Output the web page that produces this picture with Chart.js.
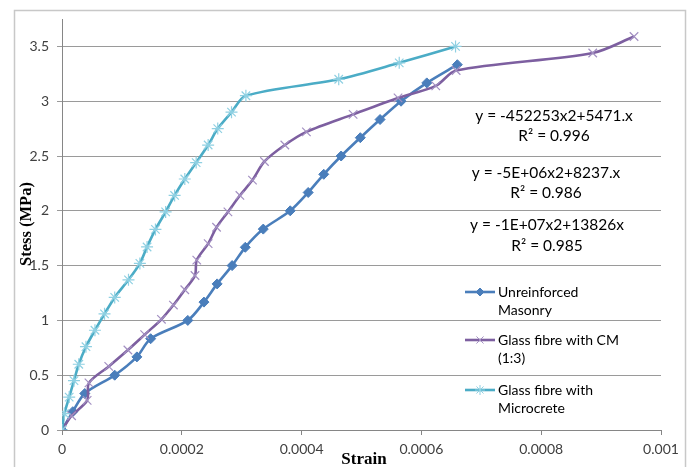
<!DOCTYPE html>
<html>
<head>
<meta charset="utf-8">
<script src="https://cdn.jsdelivr.net/npm/chart.js@4/dist/chart.umd.min.js"></script>
<style>
html,body{margin:0;padding:0;background:#fff;}
#wrap{width:691px;height:467px;position:relative;}
</style>
</head>
<body>
<div id="wrap"><canvas id="c" width="691" height="467"></canvas></div>
<script>
// ---- data ----
const seriesNames = [["Unreinforced","Masonry"],["Glass fibre with CM","(1:3)"],["Glass fibre with","Microcrete"]];
const urmStrain = [0, 0.000018, 0.000038, 0.000088, 0.000125, 0.000148, 0.00021, 0.000237, 0.000259, 0.000284, 0.000306, 0.000336, 0.000381, 0.000411, 0.000437, 0.000466, 0.000498, 0.000531, 0.000566, 0.000609, 0.00066];
const urmStress = [0, 0.167, 0.333, 0.5, 0.667, 0.833, 1.0, 1.167, 1.333, 1.5, 1.667, 1.833, 2.0, 2.167, 2.333, 2.5, 2.667, 2.833, 3.0, 3.167, 3.333];
const cmStrain = [0, 0.000016, 0.000042, 0.000045, 0.000078, 0.00011, 0.000138, 0.000166, 0.000186, 0.000205, 0.000222, 0.000225, 0.000244, 0.000258, 0.000277, 0.000297, 0.000318, 0.000338, 0.000372, 0.000408, 0.000486, 0.000561, 0.000624, 0.000658, 0.000886, 0.000955];
const cmStress = [0, 0.13, 0.27, 0.43, 0.58, 0.73, 0.87, 1.01, 1.14, 1.28, 1.41, 1.55, 1.70, 1.85, 1.99, 2.14, 2.28, 2.45, 2.60, 2.72, 2.88, 3.03, 3.14, 3.28, 3.44, 3.59];
const mcStrain = [0, 0.000004, 0.000012, 0.00002, 0.000028, 0.00004, 0.000055, 0.000071, 0.000088, 0.000111, 0.00013, 0.000142, 0.000156, 0.000173, 0.000188, 0.000205, 0.000224, 0.000244, 0.00026, 0.000283, 0.000307, 0.000462, 0.000563, 0.000657];
const mcStress = [0, 0.15, 0.3, 0.45, 0.6, 0.76, 0.91, 1.06, 1.21, 1.37, 1.52, 1.67, 1.83, 1.99, 2.14, 2.29, 2.44, 2.6, 2.75, 2.9, 3.05, 3.2, 3.35, 3.5];
const xTicks = [0, 0.0002, 0.0004, 0.0006, 0.0008, 0.001];
const xTickLabels = ["0", "0.0002", "0.0004", "0.0006", "0.0008", "0.001"];
const yTicks = [0, 0.5, 1, 1.5, 2, 2.5, 3, 3.5];
const yTickLabels = ["0", "0.5", "1", "1.5", "2", "2.5", "3", "3.5"];
const equations = ["y = -452253x2+5471.x", "y = -5E+06x2+8237.x", "y = -1E+07x2+13826x"];
const r2Texts = ["R² = 0.996", "R² = 0.986", "R² = 0.985"];
const xTitle = "Strain";
const yTitle = "Stess (MPa)";

// ---- styles ----
const lineColors = ["#4a7ebb", "#7d5fa0", "#4bacc6"];
const markColors = ["#4a7ebb", "#a390c2", "#8fd0e2"];
const markStyles = ["rectRot", "crossRot", "star"];
const FONT = "Lato, 'Open Sans', sans-serif";

function pts(xs, ys){ return xs.map((x,i)=>({x:x, y:ys[i]})); }

const datasets = [
  {label: seriesNames[0].join(" "), data: pts(urmStrain, urmStress)},
  {label: seriesNames[1].join(" "), data: pts(cmStrain, cmStress)},
  {label: seriesNames[2].join(" "), data: pts(mcStrain, mcStress)}
].map((d,i)=>Object.assign(d, {
  showLine: true,
  borderColor: lineColors[i],
  borderWidth: 2.6,
  tension: 0.3,
  pointStyle: markStyles[i],
  pointRadius: i===0 ? 5 : 6,
  pointBorderColor: markColors[i],
  pointBackgroundColor: markColors[i],
  pointBorderWidth: i===0 ? 1 : 1.2,
  order: 3-i
}));

const decor = {
  id: 'decor',
  beforeDraw(chart){
    const ctx = chart.ctx;
    ctx.save();
    ctx.fillStyle = '#fff';
    ctx.fillRect(0,0,chart.width,chart.height);
    ctx.strokeStyle = '#c8c8c8';
    ctx.lineWidth = 1.5;
    ctx.strokeRect(14.5, 10.5, 671, 480);
    ctx.restore();
  },
  afterDraw(chart){
    const ctx = chart.ctx;
    ctx.save();
    // axis titles
    ctx.fillStyle = '#000';
    ctx.font = "bold 17px 'Liberation Serif', serif";
    ctx.textAlign = 'center';
    ctx.textBaseline = 'middle';
    ctx.fillText(xTitle, 364, 460);
    ctx.save();
    ctx.translate(27, 224);
    ctx.rotate(-Math.PI/2);
    ctx.font = "bold 16.5px 'Liberation Serif', serif";
    ctx.fillText(yTitle, 0, 0);
    ctx.restore();
    // equations
    ctx.font = "15.5px " + FONT;
    ctx.fillStyle = '#000';
    const eqPos = [[554,116,136],[546,173,193],[547,225,246]];
    for (let i=0;i<3;i++){
      ctx.fillText(equations[i], eqPos[i][0], eqPos[i][1]);
      ctx.fillText(r2Texts[i], eqPos[i][0], eqPos[i][2]);
    }
    // legend
    const legY = [292, 340, 390];
    ctx.font = "14px " + FONT;
    ctx.textAlign = 'left';
    for (let i=0;i<3;i++){
      const y = legY[i];
      ctx.strokeStyle = lineColors[i];
      ctx.lineWidth = 2.6;
      ctx.beginPath(); ctx.moveTo(465, y); ctx.lineTo(495, y); ctx.stroke();
      ctx.strokeStyle = markColors[i];
      ctx.fillStyle = markColors[i];
      ctx.lineWidth = 1;
      Chart.helpers.drawPoint(ctx, {pointStyle: markStyles[i], radius: i===0 ? 4 : 5, borderWidth: 1, rotation: 0}, 480, y);
      ctx.fillStyle = '#000';
      ctx.fillText(seriesNames[i][0], 498, y);
      ctx.fillText(seriesNames[i][1], 498, y + 18);
    }
    ctx.restore();
  }
};

new Chart(document.getElementById('c'), {
  type: 'scatter',
  data: {datasets},
  options: {
    responsive: false,
    animation: false,
    events: [],
    layout: {padding: {top: 19, right: 30, bottom: 0, left: 0}},
    plugins: {legend: {display: false}, tooltip: {enabled: false}},
    scales: {
      x: {
        type: 'linear', min: 0, max: 0.001,
        afterBuildTicks: s => { s.ticks = xTicks.map(v => ({value: v})); },
        afterFit: s => { s.height = 37; },
        ticks: {callback: (v,i) => xTickLabels[i], color: '#404040', font: {family: FONT, size: 14}, padding: 6, maxRotation: 0, autoSkip: false},
        grid: {drawOnChartArea: false, drawTicks: true, tickLength: 5, color: '#868686'},
        border: {color: '#868686', width: 1}
      },
      y: {
        type: 'linear', min: 0, max: 3.75,
        afterBuildTicks: s => { s.ticks = yTicks.map(v => ({value: v})); },
        afterFit: s => { s.width = 62; },
        ticks: {callback: (v,i) => yTickLabels[i], color: '#404040', font: {family: FONT, size: 14}, padding: 8, autoSkip: false},
        grid: {color: '#9a9a9a', tickLength: 5, lineWidth: 1},
        border: {color: '#868686', width: 1}
      }
    }
  },
  plugins: [decor]
});
</script>
</body>
</html>
